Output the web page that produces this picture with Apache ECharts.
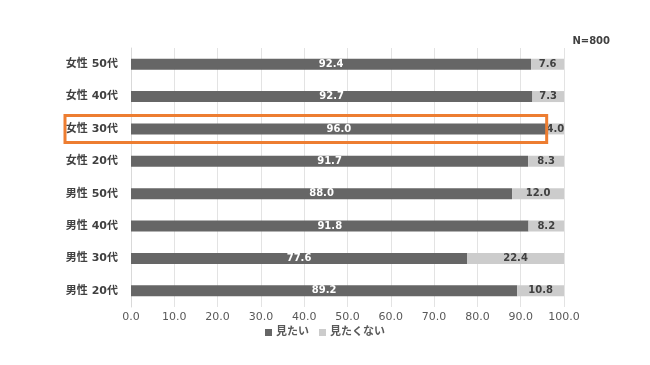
<!DOCTYPE html>
<html><head><meta charset="utf-8">
<script src="https://cdn.jsdelivr.net/npm/echarts@6/dist/echarts.min.js"></script>
<style>html,body{margin:0;padding:0;background:#fff}#c{width:650px;height:365px}</style>
</head><body><div id="c"></div>
<script>
const categories = ['男性 20代','男性 30代','男性 40代','男性 50代','女性 20代','女性 30代','女性 40代','女性 50代'];
const wantSee = [89.2, 77.6, 91.8, 88.0, 91.7, 96.0, 92.7, 92.4];
const notWantSee = [10.8, 22.4, 8.2, 12.0, 8.3, 4.0, 7.3, 7.6];
const seriesNames = ['見たい','見たくない'];
const highlightCategory = '女性 30代';
const noteText = 'N=800';

const FONT = '"DejaVu Sans", "Noto Sans CJK JP", sans-serif';
const chart = echarts.init(document.getElementById('c'));
const noteGraphic = {type:'text', right: 40, top: 36, style:{text: noteText, font: 'bold 10px ' + FONT, fill:'#404040'}};
const opt = {
  animation: false,
  grid: {left: 131, right: 86, top: 48, bottom: 58, containLabel: false},
  graphic: [noteGraphic],
  legend: {
    bottom: 22, left: 'center', itemWidth: 7, itemHeight: 7, itemGap: 10, icon: 'rect',
    textStyle: {fontFamily: FONT, fontSize: 11, fontWeight: 'bold', color: '#595959', padding: [0,0,0,-1]},
    data: seriesNames
  },
  xAxis: {
    type: 'value', min: 0, max: 100, interval: 10,
    axisLabel: {formatter: v => v.toFixed(1), fontFamily: FONT, fontSize: 11, color: '#595959', margin: 5},
    splitLine: {lineStyle: {color: '#e3e3e3'}},
    axisLine: {show: false}, axisTick: {show: false}
  },
  yAxis: {
    type: 'category', data: categories,
    axisLabel: {fontFamily: FONT, fontSize: 11, fontWeight: 'bold', color: '#404040', margin: 13},
    axisLine: {lineStyle: {color: '#d9d9d9'}}, axisTick: {show: false}
  },
  series: [
    {name: seriesNames[0], type: 'bar', stack: 's', data: wantSee, barWidth: 11,
     itemStyle: {color: '#666666'},
     label: {show: true, position: 'inside', formatter: p => p.value.toFixed(1), color: '#ffffff', fontFamily: FONT, fontSize: 10, fontWeight: 'bold'}},
    {name: seriesNames[1], type: 'bar', stack: 's', data: notWantSee, barWidth: 11,
     itemStyle: {color: '#cccccc'},
     label: {show: true, position: 'inside', formatter: p => p.value.toFixed(1), color: '#404040', fontFamily: FONT, fontSize: 10, fontWeight: 'bold'}}
  ]
};
chart.setOption(opt);
const idx = categories.indexOf(highlightCategory);
const pR = chart.convertToPixel({gridIndex: 0}, [wantSee[idx], idx]);
const pL = chart.convertToPixel({gridIndex: 0}, [0, idx]);
chart.setOption({graphic: [
  noteGraphic,
  {type:'rect', shape: {x: pL[0] - 66, y: pR[1] - 13.5, width: pR[0] - pL[0] + 66, height: 27},
   style: {fill: 'none', stroke: '#ED7D31', lineWidth: 3}, z: 100}
]});
</script></body></html>
